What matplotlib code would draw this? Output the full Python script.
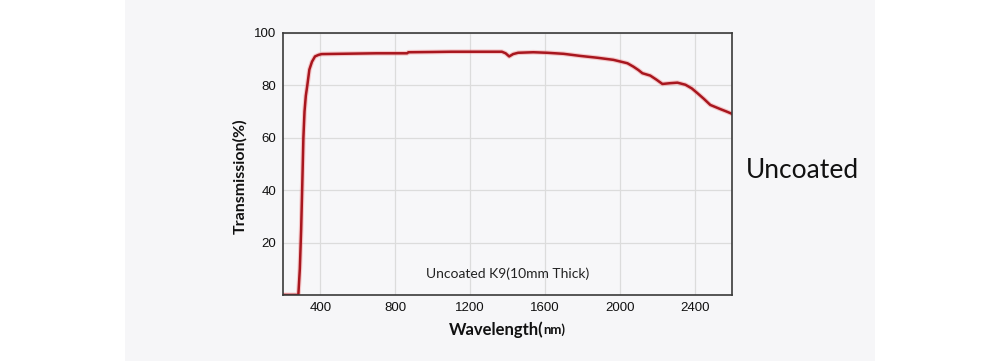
import matplotlib.pyplot as plt
from matplotlib.patches import Rectangle

# Transmission curve
wavelength = [200, 282, 290, 297, 303, 309, 315, 322, 330, 341, 355, 371, 390, 407,
              500, 600, 700, 800, 864, 870, 1000, 1100, 1254, 1370, 1390, 1409, 1430,
              1457, 1538, 1612, 1700, 1789, 1880, 1966, 2041, 2073, 2100, 2121, 2163,
              2195, 2228, 2270, 2308, 2351, 2385, 2415, 2450, 2484, 2538, 2570, 2600]
transmission = [0, 0, 10, 25, 42, 60, 70, 76, 80, 86, 89, 91, 91.6, 91.9,
                92.0, 92.1, 92.2, 92.2, 92.2, 92.6, 92.7, 92.8, 92.8, 92.8, 92.2, 91.0, 91.9,
                92.4, 92.6, 92.4, 92.0, 91.2, 90.5, 89.7, 88.4, 87.1, 85.8, 84.6, 83.7,
                82.2, 80.5, 80.8, 81.0, 80.2, 78.8, 77.0, 74.8, 72.5, 70.9, 70.0, 69.1]

x_ticks = [400, 800, 1200, 1600, 2000, 2400]
y_ticks = [20, 40, 60, 80, 100]

fig = plt.figure(figsize=(10, 3.61), dpi=100)
fig.patch.set_facecolor('white')
# light grey panel behind the chart
fig.patches.append(Rectangle((0.125, 0), 0.75, 1, transform=fig.transFigure,
                             facecolor='#f6f6f8', edgecolor='none', zorder=-5))

ax = fig.add_axes([0.283, 0.183, 0.449, 0.726])
ax.set_zorder(2)
ax.set_facecolor('#f7f7f9')

# soft glow + main line
ax.plot(wavelength, transmission, color='#f07070', linewidth=3.4, alpha=0.35,
        solid_joinstyle='round')
ax.plot(wavelength, transmission, color='#a8161e', linewidth=1.8,
        solid_joinstyle='round')

ax.set_xlim(200, 2600)
ax.set_ylim(0, 100)
ax.set_xticks(x_ticks)
ax.set_yticks(y_ticks)
ax.grid(True, color='#dcdcdc', linewidth=0.9)
ax.set_axisbelow(True)
ax.tick_params(length=0, labelsize=9.5, pad=5, colors='#111111')
for lab in ax.get_xticklabels() + ax.get_yticklabels():
    lab.set_fontfamily('Liberation Sans')
for s in ax.spines.values():
    s.set_color('#3a3a3a')
    s.set_linewidth(1.2)

ax.text(0.5, 0.08, 'Uncoated K9(10mm Thick)', transform=ax.transAxes,
        ha='center', va='center', fontsize=10, family='Lato', color='#222222')

fig.text(0.24, 0.512, 'Transmission(%)', rotation=90, ha='center', va='center',
         fontsize=11.5, fontweight='bold', family='Lato', color='#111111')
fig.text(0.543, 0.086, 'Wavelength(', ha='right', va='center',
         fontsize=12, fontweight='bold', family='Lato', color='#111111')
fig.text(0.543, 0.086, 'nm)', ha='left', va='center',
         fontsize=9.5, fontweight='bold', family='Lato', color='#111111')

fig.text(0.802, 0.528, 'Uncoated', ha='center', va='center',
         fontsize=19, family='Lato', color='#111111')

fig.savefig('out.png', dpi=100, facecolor=fig.get_facecolor())
